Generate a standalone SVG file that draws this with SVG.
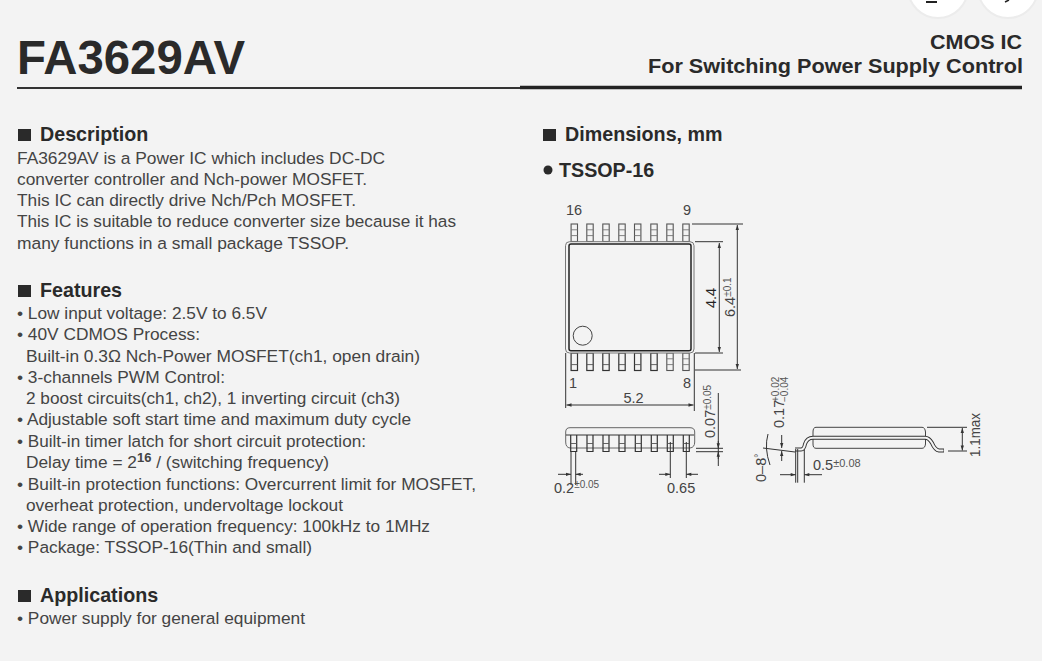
<svg xmlns="http://www.w3.org/2000/svg" width="1042" height="661" viewBox="0 0 1042 661">
<defs>
<g id="lead"><rect x="-3.200" y="0" width="6.400" height="17.500" fill="none" stroke="#555" stroke-width="1.100"/><path d="M-3.200 5.800H3.200M-3.200 11.600H3.200" stroke="#777" stroke-width="0.900"/></g>
<g id="blead"><rect x="-3.200" y="0" width="6.400" height="17.500" fill="none" stroke="#333" stroke-width="1.200"/><path d="M-3.200 11.600H3.200" stroke="#555" stroke-width="0.900"/></g>
<g id="flead"><path d="M-3 0V16.500H3V0" fill="none" stroke="#333" stroke-width="1.200"/><path d="M-3 8.500H3" stroke="#555" stroke-width="0.900"/></g>
<marker id="a" viewBox="0 0 6 6" refX="6" refY="3" markerWidth="6" markerHeight="5" orient="auto-start-reverse"><path d="M0 1L6 3L0 5Z" fill="#333"/></marker>
</defs>
<style>
text{font-family:"Liberation Sans",Arial,sans-serif;fill:#333}
.h{font-size:19.700px;font-weight:bold;fill:#2a2a2a}
.b{font-size:17.400px;fill:#444}
.d{font-size:14.500px;fill:#444}
.s{font-size:10px;fill:#555}
.l{stroke:#333;stroke-width:1;fill:none}
.la{stroke:#333;stroke-width:1;fill:none;marker-start:url(#a);marker-end:url(#a)}
.ar{stroke:#333;stroke-width:1;fill:none;marker-end:url(#a)}
</style>
<rect width="1042" height="661" fill="#f3f3f3"/>
<circle cx="938" cy="-12" r="30" fill="#fff" stroke="#ececec" stroke-width="2"/><circle cx="1008" cy="-12" r="30" fill="#fff" stroke="#ececec" stroke-width="2"/>
<path d="M926 2H937" stroke="#222" stroke-width="2"/><path d="M1005 2L1009 0" stroke="#222" stroke-width="1.500"/>
<g id="header">
<text x="17" y="74" style="font-size:47.300px;font-weight:bold;fill:#2a2a2a" textLength="228" lengthAdjust="spacingAndGlyphs">FA3629AV</text>
<text x="930" y="49" style="font-size:20.500px;font-weight:bold;fill:#2a2a2a" textLength="92" lengthAdjust="spacingAndGlyphs">CMOS IC</text>
<text x="648" y="72.500" style="font-size:21px;font-weight:bold;fill:#2a2a2a" textLength="375" lengthAdjust="spacingAndGlyphs">For Switching Power Supply Control</text>
<path d="M17 88H520" stroke="#333" stroke-width="2"/>
<path d="M520 87.500H1022" stroke="#222" stroke-width="3.500"/>
</g>
<g id="description">
<rect x="18" y="129" width="13" height="12" fill="#2a2a2a"/>
<text class="h" x="40" y="141">Description</text>
<text class="b" x="17" y="164" textLength="368" lengthAdjust="spacingAndGlyphs">FA3629AV is a Power IC which includes DC-DC</text>
<text class="b" x="17" y="185" textLength="350" lengthAdjust="spacingAndGlyphs">converter controller and Nch-power MOSFET.</text>
<text class="b" x="17" y="206" textLength="339" lengthAdjust="spacingAndGlyphs">This IC can directly drive Nch/Pch MOSFET.</text>
<text class="b" x="17" y="227" textLength="439" lengthAdjust="spacingAndGlyphs">This IC is suitable to reduce converter size because it has</text>
<text class="b" x="17" y="249" textLength="332" lengthAdjust="spacingAndGlyphs">many functions in a small package TSSOP.</text>
</g>
<g id="features">
<rect x="18" y="285" width="13" height="12" fill="#2a2a2a"/>
<text class="h" x="40" y="297">Features</text>
<text class="b" x="17" y="319" textLength="250" lengthAdjust="spacingAndGlyphs">• Low input voltage: 2.5V to 6.5V</text>
<text class="b" x="17" y="340" textLength="183" lengthAdjust="spacingAndGlyphs">• 40V CDMOS Process:</text>
<text class="b" x="26" y="362" textLength="394" lengthAdjust="spacingAndGlyphs">Built-in 0.3Ω Nch-Power MOSFET(ch1, open drain)</text>
<text class="b" x="17" y="383" textLength="208" lengthAdjust="spacingAndGlyphs">• 3-channels PWM Control:</text>
<text class="b" x="26" y="404" textLength="374" lengthAdjust="spacingAndGlyphs">2 boost circuits(ch1, ch2), 1 inverting circuit (ch3)</text>
<text class="b" x="17" y="425" textLength="394" lengthAdjust="spacingAndGlyphs">• Adjustable soft start time and maximum duty cycle</text>
<text class="b" x="17" y="447" textLength="349" lengthAdjust="spacingAndGlyphs">• Built-in timer latch for short circuit protection:</text>
<text class="b" x="26" y="468" style="font-size:17.300px">Delay time = 2<tspan dy="-6" style="font-size:13px;font-weight:bold">16</tspan><tspan dy="6"> / (switching frequency)</tspan></text>
<text class="b" x="17" y="490" textLength="459" lengthAdjust="spacingAndGlyphs">• Built-in protection functions: Overcurrent limit for MOSFET,</text>
<text class="b" x="26" y="511" textLength="317" lengthAdjust="spacingAndGlyphs">overheat protection, undervoltage lockout</text>
<text class="b" x="17" y="532" textLength="413" lengthAdjust="spacingAndGlyphs">• Wide range of operation frequency: 100kHz to 1MHz</text>
<text class="b" x="17" y="553" textLength="295" lengthAdjust="spacingAndGlyphs">• Package: TSSOP-16(Thin and small)</text>
</g>
<g id="applications">
<rect x="18" y="590" width="13" height="12" fill="#2a2a2a"/>
<text class="h" x="40" y="602">Applications</text>
<text class="b" x="17" y="624" textLength="288" lengthAdjust="spacingAndGlyphs">• Power supply for general equipment</text>
</g>
<g id="dimensions-title">
<rect x="543" y="129" width="13" height="12" fill="#2a2a2a"/>
<text class="h" x="565" y="141">Dimensions, mm</text>
<circle cx="548" cy="170" r="4.500" fill="#2a2a2a"/>
<text class="h" x="559" y="177">TSSOP-16</text>
</g>
<g id="top-view">
<use href="#lead" x="574.300" y="224"/><use href="#lead" x="590" y="224"/><use href="#lead" x="606" y="224"/><use href="#lead" x="622" y="224"/><use href="#lead" x="637.700" y="224"/><use href="#lead" x="654" y="224"/><use href="#lead" x="670" y="224"/><use href="#lead" x="686" y="224"/>
<use href="#blead" x="574.300" y="353"/><use href="#blead" x="590" y="353"/><use href="#blead" x="606" y="353"/><use href="#blead" x="622" y="353"/><use href="#blead" x="637.700" y="353"/><use href="#blead" x="654" y="353"/><use href="#lead" x="670" y="353"/><use href="#lead" x="686" y="353"/>
<rect x="565.500" y="241.700" width="128.500" height="111.300" rx="4" fill="#f3f3f3" stroke="#777" stroke-width="1"/>
<rect x="569" y="244" width="122" height="106.700" rx="2" fill="none" stroke="#222" stroke-width="1.500"/>
<circle cx="582.700" cy="335.700" r="9.500" fill="none" stroke="#444" stroke-width="1"/>
<text class="d" x="566" y="215">16</text><text class="d" x="683" y="215">9</text>
<text class="d" x="569" y="388">1</text><text class="d" x="683" y="388">8</text>
<path class="l" d="M692 224H743M695 241.700H723M695 353H723M695 370H741M565.700 353V408M694.300 353V411"/>
<path class="la" d="M737.300 225V369"/><path class="la" d="M719.300 243V352"/>
<path class="la" d="M566.500 405H693.500"/>
<text class="d" x="623.500" y="403">5.2</text>
<text class="d" transform="translate(716,308) rotate(-90)" style="fill:#222">4.4</text>
<text class="d" transform="translate(735,317) rotate(-90)">6.4<tspan class="s" dy="-4">±0.1</tspan></text>
</g>
<g id="front-view">
<path d="M565.700 435V432Q565.700 427.700 570 427.700H690Q694.700 427.700 694.700 432V442Q694.700 447.500 690 448H570Q565.700 447.500 565.700 442Z" fill="none" stroke="#666" stroke-width="1"/>
<path d="M566 435H694" stroke="#333" stroke-width="1"/>
<use href="#flead" x="573.700" y="435"/><use href="#flead" x="590" y="435"/><use href="#flead" x="606" y="435"/><use href="#flead" x="622" y="435"/><use href="#flead" x="638.300" y="435"/><use href="#flead" x="654.300" y="435"/><use href="#flead" x="670.300" y="435"/><use href="#flead" x="686.300" y="435"/>
<path class="l" d="M571 451.500V485M575.700 451.500V485M670.300 442V478M686.300 442V478M696 448.300H723M696 451.700H723"/>
<path class="l" d="M718.300 393V466"/>
<path class="ar" d="M558 474.300H571"/><path class="ar" d="M583 474.300H575.700"/><path class="ar" d="M659 474.300H670.300"/><path class="ar" d="M698 474.300H686.300"/>
<path class="ar" d="M718.300 441V448.300"/><path class="ar" d="M718.300 459V451.700"/>
<text class="d" x="554" y="493">0.2<tspan class="s" dy="-5">±0.05</tspan></text>
<text class="d" x="667" y="493">0.65</text>
<text class="d" transform="translate(714.500,438) rotate(-90)">0.07<tspan class="s" dy="-4">±0.05</tspan></text>
</g>
<g id="side-view">
<path d="M816 427.300H922Q925 427.300 925.500 432V444Q925 448.300 922 448.300H816Q813 448.300 813 444V432Q813 427.300 816 427.300Z" fill="none" stroke="#444" stroke-width="1"/>
<path d="M795 449.500H801Q804 449.500 805 444Q807 437.700 813 437.700H925Q929 437.700 932 443Q935 450 939 450.500H944" fill="none" stroke="#333" stroke-width="4"/>
<path d="M795 449.500H801Q804 449.500 805 444Q807 437.700 813 437.700H925Q929 437.700 932 443Q935 450 939 450.500H943.500" fill="none" stroke="#f3f3f3" stroke-width="2"/>
<path d="M927 427.300H967M948 451H967" class="l"/>
<path class="la" d="M962.300 428V450.500"/>
<path class="l" d="M795.700 449V482.700M797.700 449V482.700M804.300 450V482.700"/>
<path class="ar" d="M780 474.700H795.700"/><path class="ar" d="M822 474.700H804.300"/>
<path class="l" d="M768 434Q764 448 770 465M763 448L795 452"/>
<path class="ar" d="M781.700 435V448"/><path class="ar" d="M781.700 461V451"/>
<text class="d" transform="translate(784.300,428) rotate(-90)">0.17</text>
<text class="s" transform="translate(779.300,402) rotate(-90)">+0.02</text>
<text class="s" transform="translate(788,402) rotate(-90)">−0.04</text>
<text class="d" transform="translate(765.700,482) rotate(-90)">0–8<tspan class="s" dy="-4">°</tspan></text>
<text class="d" x="813" y="469.500">0.5<tspan class="s" dy="-3" style="font-size:11px">±0.08</tspan></text>
<text class="d" transform="translate(980,457) rotate(-90)" textLength="44" lengthAdjust="spacingAndGlyphs">1.1max</text>
</g>
</svg>
